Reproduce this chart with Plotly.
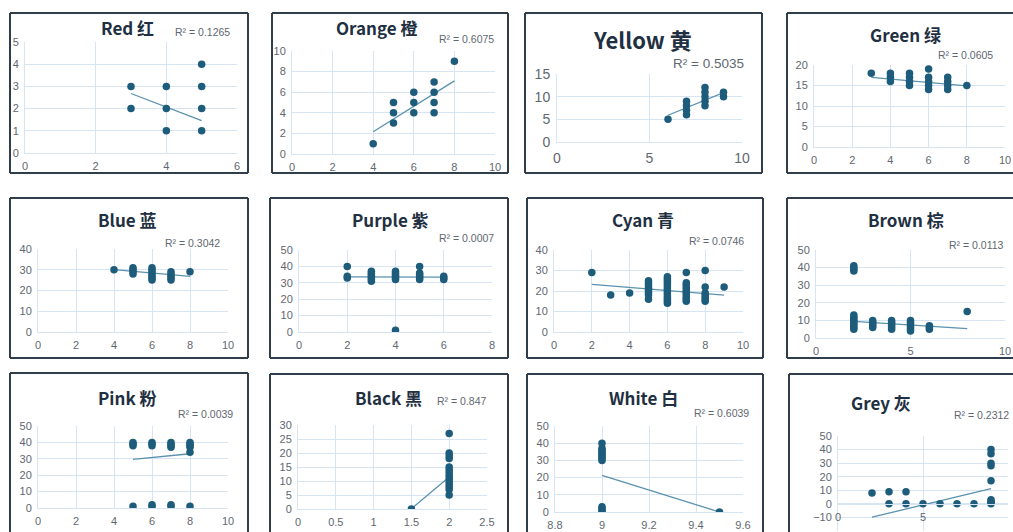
import plotly.graph_objects as go

W, H = 1013, 532

# ---------------------------------------------------------------- data
red_x = [3, 3, 4, 4, 4, 5, 5, 5, 5]
red_y = [3, 2, 3, 2, 1, 4, 3, 2, 1]
red_fit = (4.51, -0.61)          # intercept, slope
red_r2 = "0.1265"

orange_x = [4, 5, 5, 5, 6, 6, 6, 7, 7, 7, 7, 8]
orange_y = [1, 5, 4, 3, 6, 5, 4, 7, 6, 5, 4, 9]
orange_fit = (-2.78, 1.235)
orange_r2 = "0.6075"

yellow_x = [6, 7, 7, 7, 7, 8, 8, 8, 8, 8, 9, 9]
yellow_y = [5, 6, 7, 8, 9, 8, 9, 10, 11, 12, 10, 11]
yellow_fit = (-4.1, 1.667)
yellow_r2 = "0.5035"

green_x = [3, 4, 4, 4, 5, 5, 5, 5, 6, 6, 6, 6, 6, 7, 7, 7, 7, 8]
green_y = [18, 16, 17, 18, 15, 16, 17, 18, 14, 15, 16, 17, 19, 14, 15, 16, 17, 15]
green_fit = (18.26, -0.42)
green_r2 = "0.0605"

blue_x = [4, 5, 5, 5, 5, 6, 6, 6, 6, 6, 6, 6, 7, 7, 7, 7, 7, 8]
blue_y = [30, 28, 29, 30, 31, 25, 26, 27, 28, 29, 30, 31, 25, 26, 27, 28, 29, 29]
blue_fit = (33.4, -0.825)
blue_r2 = "0.3042"

purple_x = [2, 2, 2, 3, 3, 3, 3, 3, 3, 3, 4, 4, 4, 4, 4, 4, 4,
            5, 5, 5, 5, 5, 5, 6, 6, 6]
purple_y = [33, 34, 40, 31, 32, 33, 34, 35, 36, 37, 1, 32, 33, 34, 35, 36, 37,
            32, 33, 34, 35, 36, 40, 32, 33, 34]
purple_fit = (33.7, -0.05)
purple_r2 = "0.0007"

cyan_x = [2, 3, 4] + [5] * 9 + [6] * 14 + [7] * 11 + [8] * 7 + [9]
cyan_y = ([29, 18, 19]
          + [16, 18, 19, 20, 21, 22, 23, 24, 25]
          + [14, 15, 16, 17, 18, 19, 20, 21, 22, 23, 24, 25, 26, 27]
          + [15, 16, 17, 18, 19, 20, 21, 22, 23, 24, 29]
          + [15, 16, 17, 18, 19, 22, 30]
          + [22])
cyan_fit = (24.69, -0.743)
cyan_r2 = "0.0746"

brown_x = [2] * 13 + [3] * 5 + [4] * 6 + [5] * 7 + [6] * 3 + [8]
brown_y = ([38, 39, 40, 41, 5, 6, 7, 8, 9, 10, 11, 12, 13]
           + [6, 7, 8, 9, 10]
           + [5, 6, 7, 8, 9, 10]
           + [4, 5, 6, 7, 8, 9, 10]
           + [5, 6, 7]
           + [15])
brown_fit = (10.77, -0.683)
brown_r2 = "0.0113"

pink_x = [5] * 4 + [6] * 5 + [7] * 6 + [8] * 6
pink_y = ([38, 39, 40, 1]
          + [38, 39, 40, 1, 2]
          + [37, 38, 39, 40, 1, 2]
          + [37, 38, 39, 40, 34, 1])
pink_fit = (24.03, 1.133)
pink_r2 = "0.0039"

black_x = [1.5] + [2] * 14
black_y = [0, 5, 7, 8, 9, 10, 11, 12, 13, 14, 15, 18, 19, 20, 27]
black_fit = (-33.8, 22.6)
black_r2 = "0.847"

white_x = [9] * 13 + [9.5]
white_y = [0, 1, 2, 3, 30, 31, 32, 33, 34, 35, 36, 37, 40, 0]
white_fit = (404.7, -42.6)
white_r2 = "0.6039"

grey_x = [2, 3, 3, 4, 4, 5, 6, 7, 8] + [9] * 9
grey_y = [8, 9, 0, 9, 0, 0, 0, 0, 0, 0, 1, 2, 3, 17, 28, 30, 37, 40]
grey_fit = (-15.8, 3.0)
grey_r2 = "0.2312"

titles = ["Red 红", "Orange 橙", "Yellow 黄", "Green 绿",
          "Blue 蓝", "Purple 紫", "Cyan 青", "Brown 棕",
          "Pink 粉", "Black 黑", "White 白", "Grey 灰"]

series = [
    (red_x, red_y, red_fit, red_r2),
    (orange_x, orange_y, orange_fit, orange_r2),
    (yellow_x, yellow_y, yellow_fit, yellow_r2),
    (green_x, green_y, green_fit, green_r2),
    (blue_x, blue_y, blue_fit, blue_r2),
    (purple_x, purple_y, purple_fit, purple_r2),
    (cyan_x, cyan_y, cyan_fit, cyan_r2),
    (brown_x, brown_y, brown_fit, brown_r2),
    (pink_x, pink_y, pink_fit, pink_r2),
    (black_x, black_y, black_fit, black_r2),
    (white_x, white_y, white_fit, white_r2),
    (grey_x, grey_y, grey_fit, grey_r2),
]

# ------------------------------------------------------- panel layout (px)
# plot = (left, right, top, bottom); box = (x0, y0, x1, y1)
# title = (cx, cy, size); r2 = (left, cy, size)
layout_specs = [
    dict(plot=(25, 237, 42, 153), xr=(0, 6), xd=2, yr=(0, 5), yd=1,
         box=(10, 13, 248, 173), title=(128, 28, 17), r2=(173, 32, 10.5), tf=11),
    dict(plot=(292, 495, 51, 154), xr=(0, 10), xd=2, yr=(0, 10), yd=2,
         box=(272, 13, 508, 173), title=(376, 28, 17), r2=(437, 39, 10.5), tf=11),
    dict(plot=(557, 742, 74, 142), xr=(0, 10), xd=5, yr=(0, 15), yd=5,
         box=(525, 13, 762, 173), title=(642, 39, 22), r2=(671, 63, 13.5), tf=14),
    dict(plot=(814, 1005, 65, 147), xr=(0, 10), xd=2, yr=(0, 20), yd=5,
         box=(787, 13, 1030, 173), title=(905, 35, 17), r2=(936, 55, 10.5), tf=11),
    dict(plot=(38, 228, 249, 332), xr=(0, 10), xd=2, yr=(0, 40), yd=10,
         box=(10, 198, 248, 358), title=(128, 220, 17), r2=(163, 243, 10.5), tf=11),
    dict(plot=(299, 492, 250, 332), xr=(0, 8), xd=2, yr=(0, 50), yd=10,
         box=(270, 198, 508, 358), title=(390, 220, 17), r2=(437, 238, 10.5), tf=11),
    dict(plot=(554, 743, 250, 332), xr=(0, 10), xd=2, yr=(0, 40), yd=10,
         box=(527, 198, 763, 358), title=(643, 220, 17), r2=(687, 241, 10.5), tf=11),
    dict(plot=(816, 1005, 250, 338), xr=(0, 10), xd=5, yr=(0, 50), yd=10,
         box=(787, 198, 1030, 358), title=(906, 220, 17), r2=(947, 245, 10.5), tf=11),
    dict(plot=(38, 228, 426, 508), xr=(0, 10), xd=2, yr=(0, 50), yd=10,
         box=(10, 373, 248, 560), title=(128, 397, 17), r2=(176, 414, 10.5), tf=11),
    dict(plot=(298, 487, 425, 509), xr=(0, 2.5), xd=0.5, yr=(0, 30), yd=5,
         box=(270, 374, 508, 560), title=(388, 397, 17), r2=(435, 401, 10.5), tf=11),
    dict(plot=(555, 743, 426, 512), xr=(8.8, 9.6), xd=0.2, yr=(0, 50), yd=10,
         box=(527, 374, 763, 560), title=(643, 397, 17), r2=(692, 413, 10.5), tf=11),
    dict(plot=(838, 1008, 436, 531), xr=(0, 10), xd=5, yr=(-20, 50), yd=10,
         box=(789, 374, 1030, 560), title=(881, 402, 17), r2=(952, 415, 10.5), tf=11,
         xcross=504),
]

DOT = "#1D5C7B"
TREND = "#5A92AF"
GRID = "#D6E4F4"
TICK = "#5F6770"
TITLE = "#1F3042"
BOX = "#2F3E4A"
TICK_FONT = "Liberation Sans, sans-serif"
TITLE_FONT = "Noto Sans CJK SC, Noto Sans, sans-serif"


def px_x(v):
    return min(max(v, 0), W) / W


def px_y(v):
    return 1 - min(max(v, 0), H) / H


fig = go.Figure()
layout = dict(
    width=W, height=H,
    # fixed zero margins: paper coordinates map 1:1 onto the page
    margin=dict(l=0, r=0, t=0, b=0, pad=0, autoexpand=False),
    paper_bgcolor="white", plot_bgcolor="white",
    showlegend=False,
    shapes=[], annotations=[],
)

for i, ((xs, ys, fit, r2), spec, title) in enumerate(zip(series, layout_specs, titles), start=1):
    sfx = "" if i == 1 else str(i)
    xa, ya = "x" + sfx, "y" + sfx

    # trend line across the observed x span
    a, b = fit
    x0, x1 = min(xs), max(xs)
    fig.add_trace(go.Scatter(
        x=[x0, x1], y=[a + b * x0, a + b * x1], mode="lines",
        line=dict(color=TREND, width=1.3), xaxis=xa, yaxis=ya, hoverinfo="skip"))
    fig.add_trace(go.Scatter(
        x=xs, y=ys, mode="markers",
        marker=dict(color=DOT, size=7.5, line=dict(width=0)),
        xaxis=xa, yaxis=ya))

    l, r, t, btm = spec["plot"]
    tickfont = dict(family=TICK_FONT, size=spec["tf"], color=TICK)
    xaxis = dict(
        domain=[l / W, r / W], range=list(spec["xr"]), dtick=spec["xd"], tick0=spec["xr"][0],
        showgrid=True, gridcolor=GRID, gridwidth=1, zeroline=False,
        showline=True, linecolor=GRID, linewidth=1, automargin=False,
        ticks="", tickfont=tickfont, ticklabelstandoff=3, fixedrange=True,
        anchor=ya,
    )
    yaxis = dict(
        domain=[1 - min(btm, H) / H, 1 - t / H], range=list(spec["yr"]), dtick=spec["yd"], tick0=0,
        showgrid=True, gridcolor=GRID, gridwidth=1, zeroline=False,
        showline=True, linecolor=GRID, linewidth=1, automargin=False,
        ticks="", tickfont=tickfont, ticklabelstandoff=3, fixedrange=True,
        anchor=xa,
    )
    if "xcross" in spec:
        # horizontal axis crossing the value axis at zero
        xaxis.update(anchor="free", position=1 - spec["xcross"] / H)
    layout["xaxis" + sfx] = xaxis
    layout["yaxis" + sfx] = yaxis

    # chart frame: only the sides that fall inside the page are drawn
    bx0, by0, bx1, by1 = spec["box"]
    sides = [(bx0, by0, bx0, by1), (bx0, by0, bx1, by0)]
    if bx1 <= W:
        sides.append((bx1, by0, bx1, by1))
    if by1 <= H:
        sides.append((bx0, by1, bx1, by1))
    for sx0, sy0, sx1, sy1 in sides:
        layout["shapes"].append(dict(
            type="line", xref="paper", yref="paper",
            x0=px_x(sx0), x1=px_x(sx1), y0=px_y(sy0), y1=px_y(sy1),
            line=dict(color=BOX, width=2), layer="above"))

    cx, cy, ts = spec["title"]
    layout["annotations"].append(dict(
        text="<b>" + title + "</b>", xref="paper", yref="paper",
        x=cx / W, y=1 - cy / H, xanchor="center", yanchor="middle",
        showarrow=False, font=dict(family=TITLE_FONT, size=ts, color=TITLE)))

    rx, ry, rs = spec["r2"]
    layout["annotations"].append(dict(
        text="R² = " + r2, xref="paper", yref="paper",
        x=rx / W, y=1 - ry / H, xanchor="left", yanchor="middle",
        showarrow=False, font=dict(family=TICK_FONT, size=rs, color=TICK)))

fig.update_layout(**layout)
fig.write_html("out.html")
